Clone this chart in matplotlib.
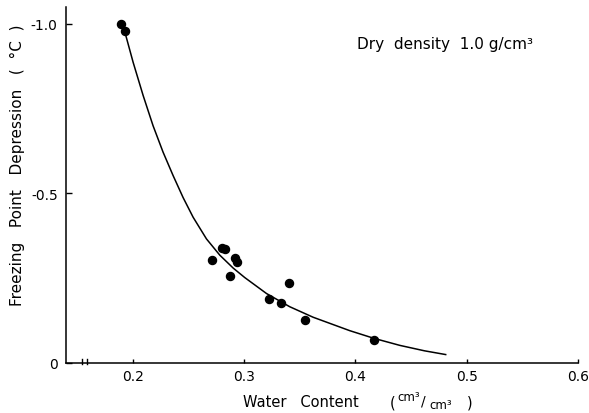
import matplotlib
matplotlib.use("Agg")
import matplotlib.pyplot as plt
import matplotlib.transforms as mtransforms

plt.rcParams['font.family'] = ['DejaVu Sans']
plt.rcParams['axes.unicode_minus'] = False

# measured points: water content (cm3/cm3) vs freezing point depression (degC)
water_content = [0.189, 0.193, 0.271, 0.280, 0.283, 0.292, 0.294, 0.287,
                 0.322, 0.333, 0.340, 0.355, 0.4165]
fp_depression = [-1.000, -0.979, -0.304, -0.339, -0.336, -0.309, -0.297, -0.258,
                 -0.189, -0.177, -0.235, -0.128, -0.068]

# fitted curve
curve_x = [0.1934, 0.2003, 0.2093, 0.2182, 0.2272, 0.2362, 0.2452, 0.2542,
           0.2662, 0.2782, 0.2902, 0.3006, 0.3201, 0.3410, 0.3620, 0.3950,
           0.4165, 0.4399, 0.4620, 0.4818]
curve_y = [-0.970, -0.887, -0.789, -0.700, -0.622, -0.553, -0.488, -0.430,
           -0.366, -0.318, -0.280, -0.252, -0.205, -0.166, -0.135, -0.0953,
           -0.0729, -0.052, -0.036, -0.0245]

xticks = [0.2, 0.3, 0.4, 0.5, 0.6]
xtick_labels = ["0.2", "0.3", "0.4", "0.5", "0.6"]
yticks = [0.0, -0.5, -1.0]
ytick_labels = ["0", "-0.5", "-1.0"]

W, H = 589, 414
fig = plt.figure(figsize=(W / 100, H / 100), dpi=100)
ax = fig.add_axes([66 / W, 50 / H, 512 / W, 356 / H])

ax.plot(curve_x, curve_y, color='black', lw=1.1, solid_capstyle='butt')
ax.plot(water_content, fp_depression, 'o', color='black', ms=5.8, mec='black')

ax.set_xlim(0.14, 0.6)
ax.set_ylim(0.0, -1.05)

for s in ['top', 'right']:
    ax.spines[s].set_visible(False)
for s in ['left', 'bottom']:
    ax.spines[s].set_linewidth(1.1)

ax.set_xticks(xticks)
ax.set_xticklabels(xtick_labels, fontsize=10)
ax.set_yticks(yticks)
ax.set_yticklabels(ytick_labels, fontsize=10)
ax.tick_params(axis='x', direction='in', length=3, width=1, pad=4)
ax.tick_params(axis='y', direction='in', length=4, width=1, pad=6)

# axis break marks
trans = mtransforms.blended_transform_factory(ax.transData, ax.transAxes)
for bx in [0.1545, 0.1590]:
    ax.plot([bx, bx], [-0.004, 0.012], color='black', lw=1.0, transform=trans,
            clip_on=False)

def px(x, y):
    return x / W, 1 - y / H

# x label pieces
fig.text(*px(243, 403), "Water   Content", fontsize=10.5, ha='left', va='center')
fig.text(*px(390, 403), "(", fontsize=10.5, ha='left', va='center')
fig.text(*px(397, 398), "cm³", fontsize=8.5, ha='left', va='center')
fig.text(*px(421, 402), "/", fontsize=10, ha='left', va='center')
fig.text(*px(429, 406), "cm³", fontsize=8.5, ha='left', va='center')
fig.text(*px(467, 403), ")", fontsize=10.5, ha='left', va='center')

# y label
fig.text(*px(17, 165), "Freezing   Point   Depression   (  °C  )", fontsize=11,
         rotation=90, ha='center', va='center')

fig.text(*px(357, 44), "Dry  density  1.0 g/cm³", fontsize=11,
         ha='left', va='center')

fig.savefig("out.png", dpi=100)
